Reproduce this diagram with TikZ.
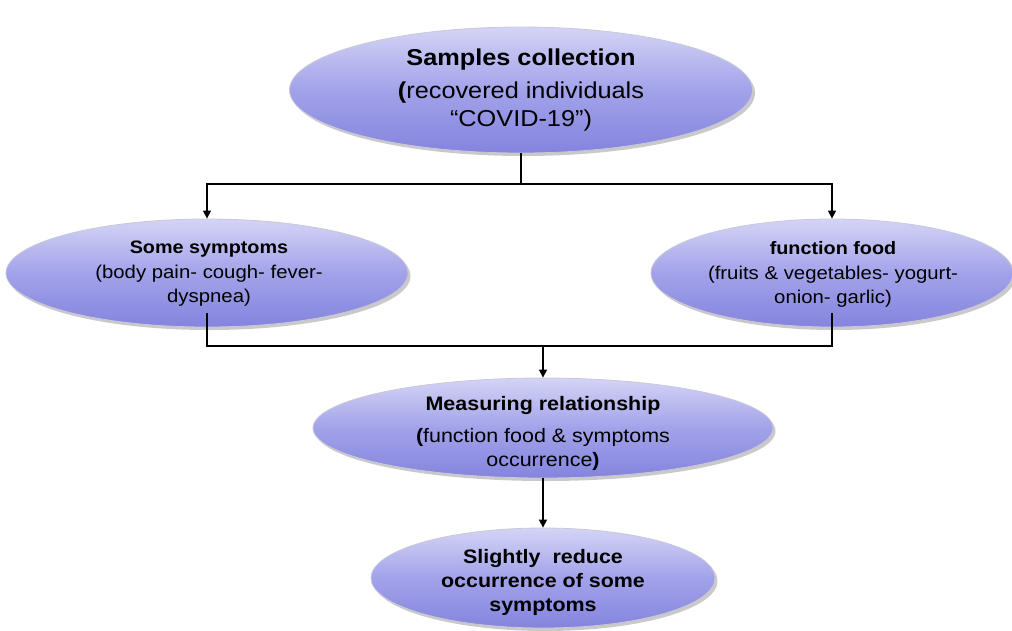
\documentclass[tikz,border=0pt]{standalone}
\usepackage{fontspec}
\setmainfont{Liberation Sans}[FakeStretch=1.1]
\usetikzlibrary{shapes.geometric,arrows.meta,shadows}
\definecolor{ovtop}{RGB}{212,212,246}
\definecolor{ovmid}{RGB}{162,162,234}
\definecolor{ovbot}{RGB}{132,132,222}
\definecolor{ovrim}{RGB}{200,200,215}
\begin{document}
\begin{tikzpicture}[x=1pt,y=-1pt,
  oval/.style={ellipse, inner sep=0pt, draw=ovrim, line width=0.8pt,
    top color=ovtop, bottom color=ovbot, middle color=ovmid,
    drop shadow={shadow xshift=2.5pt, shadow yshift=-3pt, opacity=0.3, fill=black!70}},
  txt/.style={align=center, inner sep=0pt, text=black},
  conn/.style={line width=1.4pt, draw=black},
  arr/.style={conn, -{Triangle[width=8pt,length=8pt]}}]
\useasboundingbox (0,0) rectangle (1012,630);
% ellipses
\node[oval, minimum width=463pt, minimum height=126pt] (top) at (521,90) {};
\node[oval, minimum width=402pt, minimum height=108pt] (sym) at (207,273) {};
\node[oval, minimum width=362pt, minimum height=108pt] (food) at (832,273) {};
\node[oval, minimum width=460pt, minimum height=100pt] (meas) at (543,428) {};
\node[oval, minimum width=344pt, minimum height=100pt] (res) at (543,578) {};
% texts
\node[txt, font=\fontsize{23}{28}\selectfont] (toptxt) at (521,90)
  {\textbf{Samples collection}\\[5pt]{\bfseries(}recovered individuals\\“COVID-19”)};
\node[txt, font=\fontsize{18.5}{24}\selectfont] (symtxt) at (209,274)
  {{\fontsize{18}{24}\selectfont\bfseries Some symptoms}\\[1pt](body pain- cough- fever-\\dyspnea)};
\node[txt, font=\fontsize{18.5}{24}\selectfont] (foodtxt) at (833,274)
  {{\fontsize{18}{24}\selectfont\bfseries function food}\\[1pt](fruits \& vegetables- yogurt-\\onion- garlic)};
\node[txt, font=\fontsize{19.5}{24}\selectfont] (meastxt) at (543,433)
  {\textbf{Measuring relationship}\\[8pt]{\bfseries(}function food \& symptoms\\occurrence{\bfseries)}};
\node[txt, font=\bfseries\fontsize{19.5}{24}\selectfont] (restxt) at (543,582)
  {Slightly\ \ reduce\\occurrence of some\\symptoms};
% connectors
\coordinate (h1) at (0,184);
\coordinate (h2) at (0,346);
\draw[conn] (top.south) -- (top.south |- h1);
\draw[arr] (top.south |- h1) -| (sym.north);
\draw[arr] (top.south |- h1) -| (food.north);
\draw[conn] ([yshift=14pt]sym.south) -- (sym.south |- h2) -- (food.south |- h2) -- ([yshift=14pt]food.south);
\draw[arr] (meas.north |- h2) -- (meas.north);
\draw[arr] (meas.south) -- (res.north);
\end{tikzpicture}
\end{document}
